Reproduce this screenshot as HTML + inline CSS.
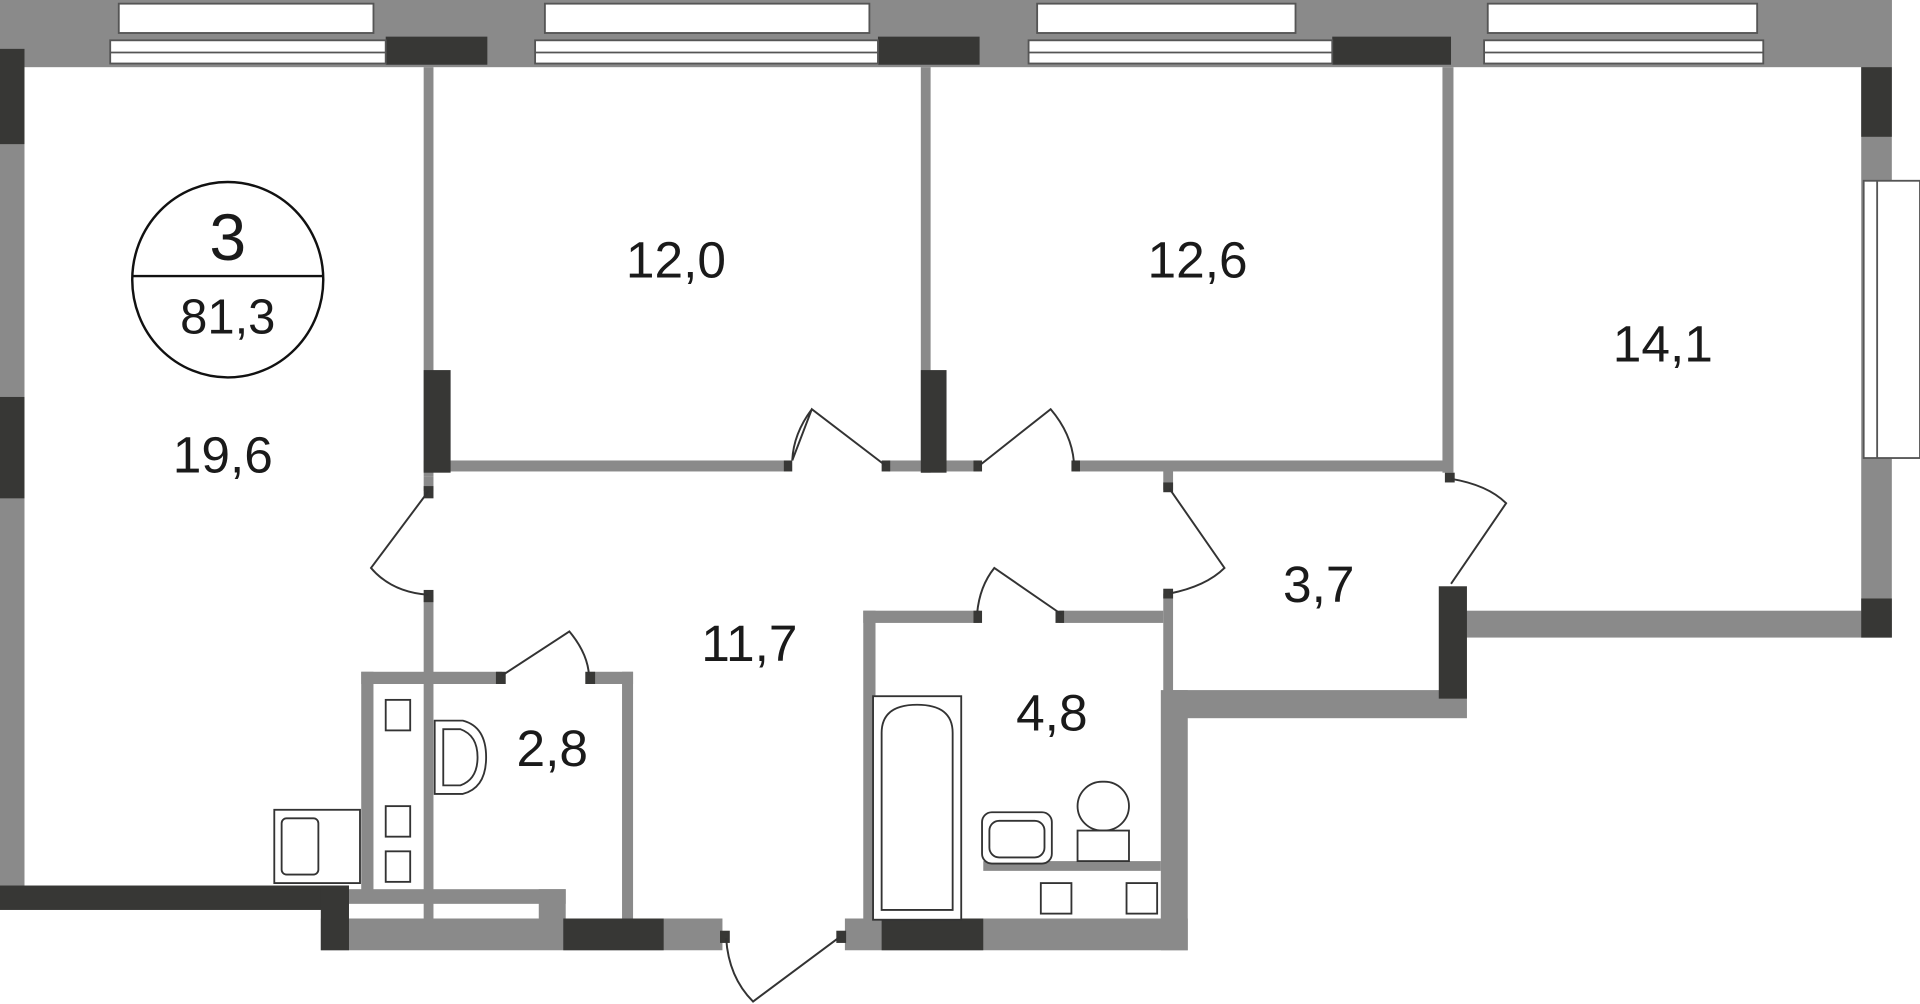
<!DOCTYPE html>
<html><head><meta charset="utf-8"><style>
html,body{margin:0;padding:0;background:#fff;}
svg{display:block;}
text{font-family:"Liberation Sans",sans-serif;fill:#1a1a1a;}
</style></head><body>
<svg width="1920" height="1004" viewBox="0 0 1568 822" preserveAspectRatio="none" xmlns="http://www.w3.org/2000/svg">
<g fill="#8a8a8a">
<rect x="0" y="0" width="1545" height="55"/>
<rect x="0" y="33" width="20" height="700"/>
<rect x="1520" y="0" width="25" height="522"/>
<rect x="346" y="55" width="8" height="335"/>
<rect x="752" y="55" width="8" height="332"/>
<rect x="1178" y="55" width="9" height="332"/>
<rect x="346" y="377" width="294" height="9"/>
<rect x="725" y="377" width="75" height="9"/>
<rect x="878" y="377" width="307" height="9"/>
<rect x="950" y="385" width="8" height="16"/>
<rect x="950" y="486" width="8" height="80"/>
<rect x="346" y="487" width="8" height="268"/>
<rect x="346" y="390" width="8" height="12"/>
<rect x="1185" y="500" width="360" height="22"/>
<rect x="958" y="565" width="240" height="23"/>
<rect x="948" y="565" width="22" height="213"/>
<rect x="705" y="500" width="95" height="10"/>
<rect x="865" y="500" width="85" height="10"/>
<rect x="705" y="500" width="10" height="255"/>
<rect x="690" y="752" width="280" height="26"/>
<rect x="803" y="705" width="145" height="8"/>
<rect x="295" y="550" width="115" height="10"/>
<rect x="480" y="550" width="37" height="10"/>
<rect x="295" y="550" width="10" height="180"/>
<rect x="508" y="550" width="9" height="205"/>
<rect x="280" y="728" width="182" height="12"/>
<rect x="440" y="728" width="22" height="26"/>
<rect x="262" y="752" width="328" height="26"/>
</g>
<g fill="#373735">
<rect x="315" y="30" width="83" height="23"/>
<rect x="717" y="30" width="83" height="23"/>
<rect x="1088" y="30" width="97" height="23"/>
<rect x="0" y="40" width="20" height="78"/>
<rect x="0" y="325" width="20" height="83"/>
<rect x="1520" y="55" width="25" height="57"/>
<rect x="1520" y="490" width="25" height="32"/>
<rect x="346" y="303" width="22" height="84"/>
<rect x="752" y="303" width="21" height="84"/>
<rect x="1175" y="480" width="23" height="92"/>
<rect x="0" y="725" width="285" height="20"/>
<rect x="262" y="725" width="23" height="53"/>
<rect x="460" y="752" width="82" height="26"/>
<rect x="720" y="752" width="83" height="26"/>
<rect x="346" y="398" width="8" height="10"/>
<rect x="346" y="483" width="8" height="10"/>
<rect x="640" y="377" width="7" height="9"/>
<rect x="720" y="377" width="7" height="9"/>
<rect x="795" y="377" width="7" height="9"/>
<rect x="875" y="377" width="7" height="9"/>
<rect x="950" y="395" width="8" height="8"/>
<rect x="950" y="482" width="8" height="8"/>
<rect x="1180" y="387" width="8" height="8"/>
<rect x="405" y="550" width="8" height="10"/>
<rect x="478" y="550" width="8" height="10"/>
<rect x="795" y="500" width="7" height="10"/>
<rect x="862" y="500" width="7" height="10"/>
<rect x="588" y="762" width="8" height="10"/>
<rect x="683" y="762" width="8" height="10"/>
</g>
<g fill="#fff" stroke="#555" stroke-width="1.5">
<rect x="97" y="3" width="208" height="24"/>
<rect x="445" y="3" width="265" height="24"/>
<rect x="847" y="3" width="211" height="24"/>
<rect x="1215" y="3" width="220" height="24"/>
<rect x="90" y="33" width="225" height="19"/>
<rect x="437" y="33" width="280" height="19"/>
<rect x="840" y="33" width="248" height="19"/>
<rect x="1212" y="33" width="228" height="19"/>
<rect x="1522" y="148" width="46" height="227"/>
</g>
<g stroke="#555" stroke-width="1.5">
<line x1="90" y1="43" x2="315" y2="43"/><line x1="437" y1="43" x2="717" y2="43"/>
<line x1="840" y1="43" x2="1088" y2="43"/><line x1="1212" y1="43" x2="1440" y2="43"/>
<line x1="1533" y1="148" x2="1533" y2="375"/>
</g>
<g fill="none" stroke="#333" stroke-width="1.6">
<path d="M350 402 L303 465 Q320 485 350 487"/>
<path d="M647 377 L663 335 L723 381 M647 377 Q648 355 663 335"/>
<path d="M800 381 L858 335 Q875 355 877 378"/>
<path d="M955 400 L1000 465 Q985 480 955 486"/>
<path d="M1185 392 Q1215 397 1230 412 L1185 478"/>
<path d="M410 553 L465 517 Q480 535 481 553"/>
<path d="M798 502 Q800 480 812 465 L867 503"/>
<path d="M593 768 Q595 800 615 820 L686 767"/>
</g>
<g fill="#fff" stroke="#333" stroke-width="1.5">
<rect x="315" y="573" width="20" height="25"/>
<rect x="315" y="660" width="20" height="25"/>
<rect x="315" y="697" width="20" height="25"/>
<rect x="224" y="663" width="70" height="60"/>
<rect x="230" y="670" width="30" height="46" rx="4"/>
<path d="M355 590 L378 590 Q397 595 397 620 Q397 645 378 650 L355 650 Z"/>
<path d="M362 597 L376 597 Q390 602 390 620 Q390 638 376 643 L362 643 Z"/>
<rect x="713" y="570" width="72" height="183"/>
<path d="M720 745 L720 600 Q720 577 749 577 Q778 577 778 600 L778 745 Z"/>
<rect x="802" y="665" width="57" height="42" rx="8"/>
<rect x="808" y="672" width="45" height="30" rx="8"/>
<rect x="880" y="640" width="42" height="40" rx="20"/>
<rect x="880" y="680" width="42" height="25"/>
<rect x="850" y="723" width="25" height="25"/>
<rect x="920" y="723" width="25" height="25"/>
</g>
<ellipse cx="186" cy="229" rx="78" ry="80" fill="none" stroke="#111" stroke-width="2"/>
<line x1="108" y1="226" x2="264" y2="226" stroke="#111" stroke-width="2"/>
<text x="186" y="213" font-size="54" text-anchor="middle">3</text>
<text x="186" y="273" font-size="40" text-anchor="middle">81,3</text>
<g font-size="42" text-anchor="middle">
<text x="552" y="227">12,0</text>
<text x="978" y="227">12,6</text>
<text x="1358" y="296">14,1</text>
<text x="182" y="387">19,6</text>
<text x="612" y="541">11,7</text>
<text x="1077" y="493">3,7</text>
<text x="451" y="627">2,8</text>
<text x="859" y="598">4,8</text>
</g>
</svg>
</body></html>
